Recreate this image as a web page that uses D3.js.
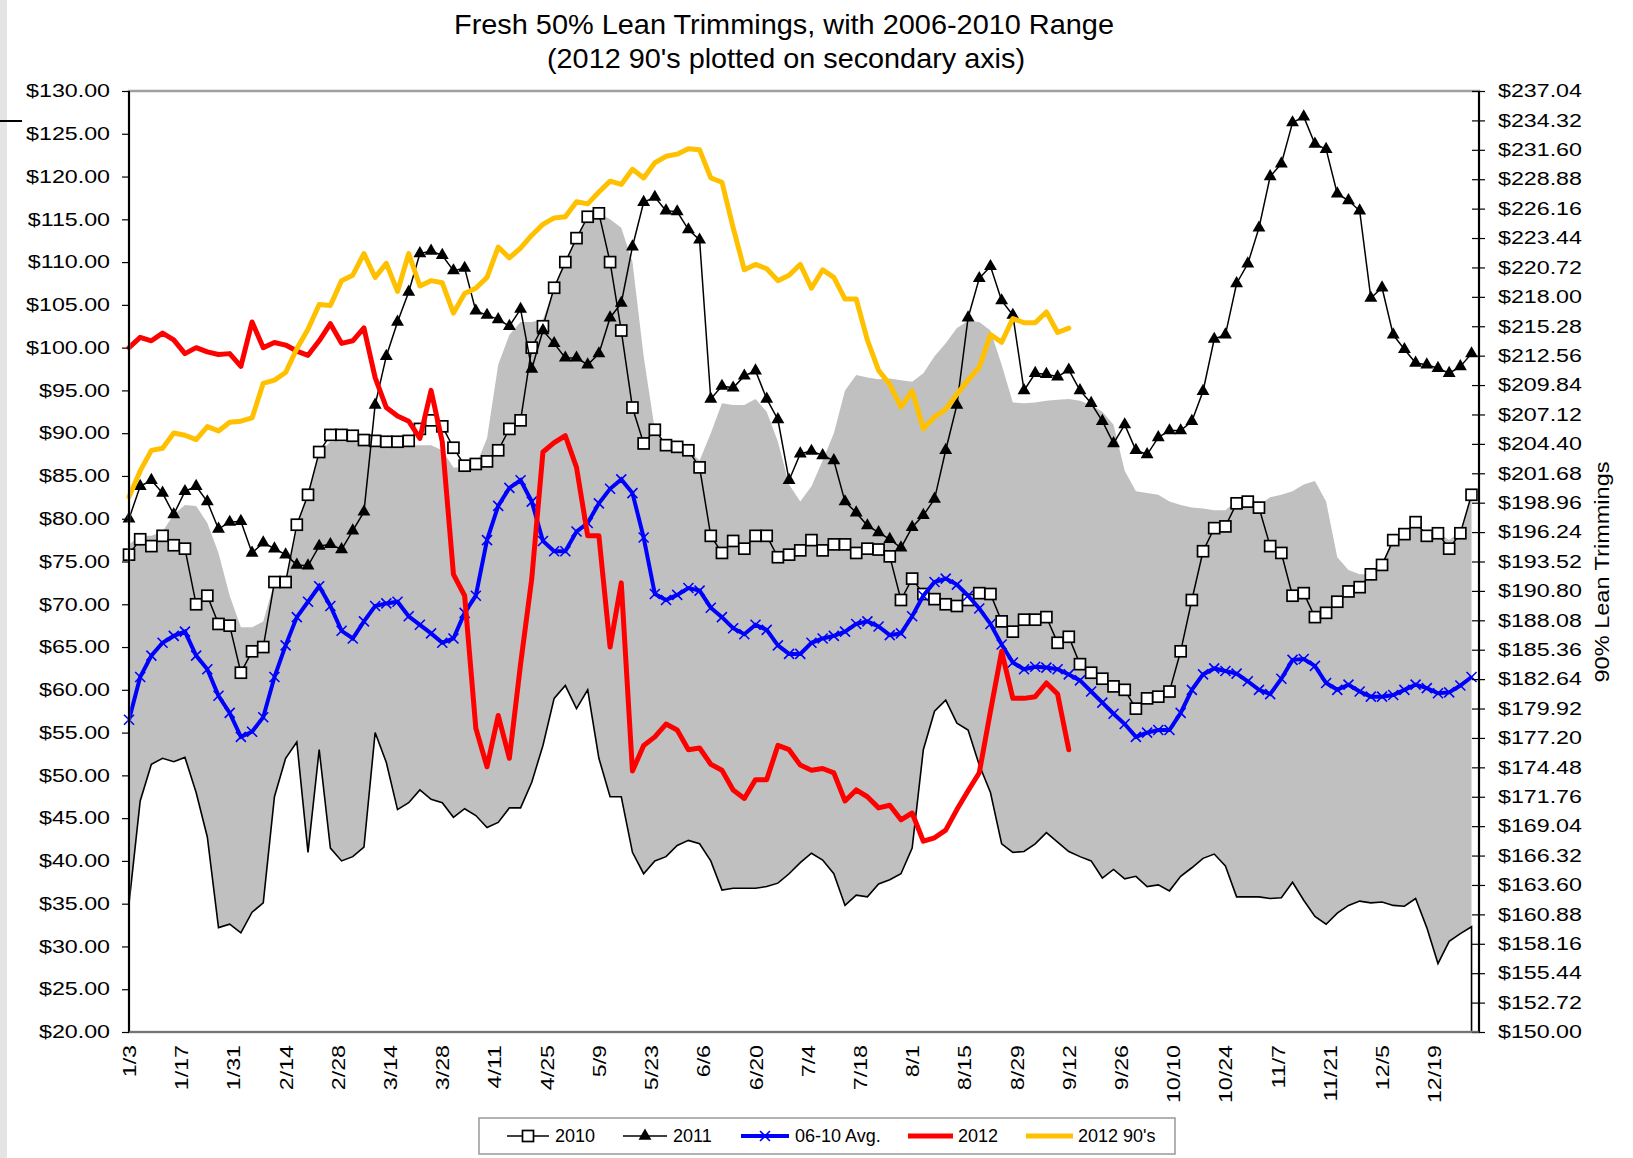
<!DOCTYPE html>
<html>
<head>
<meta charset="utf-8">
<script src="https://cdn.jsdelivr.net/npm/d3@7"></script>
<style>
  body { margin: 0; background: #fff; }
  text { font-family: "Liberation Sans", Arial, sans-serif; fill: #000; }
</style>
</head>
<body>
<div id="chart"></div>
<script>
// Chart dimensions
var margin = {top: 91, right: 154, bottom: 126, left: 129},
    width = 1633 - margin.left - margin.right,
    height = 1158 - margin.top - margin.bottom;

// Category grid: days after 1/3, every third day
var days = d3.range(0, 361, 3);

var xTickDays = [0, 14, 28, 42, 56, 70, 84, 98, 112, 126, 140, 154, 168, 182, 196, 210, 224, 238, 252, 266, 280, 294, 308, 322, 336, 350];
var xTickLabels = ["1/3", "1/17", "1/31", "2/14", "2/28", "3/14", "3/28", "4/11", "4/25", "5/9", "5/23", "6/6", "6/20",
  "7/4", "7/18", "8/1", "8/15", "8/29", "9/12", "9/26", "10/10", "10/24", "11/7", "11/21", "12/5", "12/19"];
var yTicks = [20, 25, 30, 35, 40, 45, 50, 55, 60, 65, 70, 75, 80, 85, 90, 95, 100, 105, 110, 115, 120, 125, 130];
var y2Ticks = [150.00, 152.72, 155.44, 158.16, 160.88, 163.60, 166.32, 169.04, 171.76, 174.48, 177.20, 179.92, 182.64,
  185.36, 188.08, 190.80, 193.52, 196.24, 198.96, 201.68, 204.40, 207.12, 209.84, 212.56, 215.28, 218.00, 220.72,
  223.44, 226.16, 228.88, 231.60, 234.32, 237.04];

// 2006-2010 range
var rangeMax = [
  77.0, 78.0, 78.0, 78.5, 80.5, 81.6, 81.5, 79.5, 76.0, 71.0,
  67.3, 67.3, 68.0, 72.6, 72.6, 79.3, 82.8, 87.8, 89.0, 89.0,
  89.0, 88.7, 88.6, 88.6, 88.6, 88.6, 88.6, 88.6, 88.0, 86.0,
  86.0, 86.2, 89.4, 98.0, 101.5, 103.0, 103.0, 103.3, 107.0, 110.0,
  112.8, 115.3, 115.7, 115.0, 114.0, 110.0, 99.0, 90.4, 88.6, 88.4,
  88.0, 86.8, 90.0, 93.5, 93.3, 93.3, 94.0, 92.5, 89.0, 84.0,
  82.0, 83.8, 86.8, 90.0, 95.0, 96.8, 96.5, 96.3, 96.4, 96.2,
  96.0, 97.0, 99.0, 100.5, 102.3, 103.1, 103.0, 102.0, 98.0, 93.6,
  93.5, 93.6, 93.8, 93.9, 94.0, 93.8, 93.3, 92.5, 91.0, 85.6,
  83.2, 83.0, 82.8, 82.0, 81.6, 81.3, 81.2, 81.0, 81.0, 82.1,
  82.0, 81.6, 82.5, 82.8, 83.2, 84.0, 84.4, 82.0, 75.5, 74.0,
  73.5, 73.5, 74.6, 77.5, 78.2, 79.6, 78.0, 78.3, 77.5, 78.5,
  82.8];
var rangeMin = [
  35.0, 47.0, 51.3, 52.0, 51.6, 52.1, 48.0, 42.8, 32.2, 32.6,
  31.6, 34.0, 35.1, 47.5, 52.0, 53.9, 41.0, 53.0, 41.5, 40.0,
  40.5, 41.6, 55.0, 51.5, 46.0, 46.8, 48.3, 47.2, 46.8, 45.1,
  46.1, 45.3, 43.9, 44.5, 46.2, 46.2, 49.2, 53.5, 59.0, 60.5,
  57.8, 60.0, 52.0, 47.5, 47.5, 41.0, 38.5, 40.0, 40.5, 41.8,
  42.4, 42.0, 40.0, 36.6, 36.8, 36.8, 36.8, 37.0, 37.4, 38.5,
  39.8, 40.9, 40.1, 38.5, 34.8, 36.0, 35.8, 37.3, 37.8, 38.5,
  41.5, 53.0, 57.5, 58.8, 56.1, 55.3, 51.2, 48.0, 42.0, 41.0,
  41.1, 42.0, 43.3, 42.2, 41.1, 40.5, 40.0, 38.0, 39.0, 37.9,
  38.2, 37.0, 37.2, 36.5, 38.2, 39.2, 40.3, 40.8, 39.4, 35.8,
  35.8, 35.8, 35.6, 35.7, 37.5, 35.4, 33.5, 32.6, 33.9, 34.8,
  35.3, 35.1, 35.2, 34.8, 34.7, 35.6, 32.2, 28.0, 30.6, 31.5,
  32.3];

var s2010 = [
  75.8, 77.6, 76.8, 78.0, 76.9, 76.5, 70.0, 71.0, 67.7, 67.5,
  62.0, 64.5, 65.0, 72.6, 72.6, 79.3, 82.8, 87.8, 89.8, 89.8,
  89.7, 89.2, 89.1, 89.0, 89.0, 89.1, 90.5, 91.5, 90.8, 88.3,
  86.2, 86.4, 86.7, 88.0, 90.5, 91.5, 100.0, 102.5, 107.0, 110.0,
  112.8, 115.3, 115.7, 110.0, 102.0, 93.0, 88.8, 90.4, 88.6, 88.4,
  88.0, 86.0, 78.0, 76.0, 77.4, 76.5, 78.0, 78.0, 75.5, 75.8,
  76.3, 77.5, 76.3, 77.0, 77.0, 76.0, 76.5, 76.4, 75.6, 70.5,
  73.0, 71.2, 70.6, 70.0, 69.8, 70.5, 71.3, 71.2, 68.0, 66.8,
  68.2, 68.2, 68.5, 65.5, 66.2, 63.0, 62.0, 61.3, 60.4, 60.0,
  57.8, 59.0, 59.2, 59.8, 64.5, 70.5, 76.2, 78.9, 79.1, 81.8,
  82.0, 81.3, 76.8, 76.0, 71.0, 71.3, 68.5, 69.0, 70.3, 71.5,
  72.0, 73.5, 74.6, 77.5, 78.2, 79.6, 78.0, 78.3, 76.5, 78.3,
  82.8];

var s2011 = [
  80.0, 83.8, 84.5, 83.0, 80.5, 83.2, 83.8, 82.0, 78.8, 79.6,
  79.7, 76.0, 77.2, 76.5, 75.8, 74.6, 74.5, 76.8, 77.0, 76.4,
  78.6, 80.8, 93.3, 99.0, 103.0, 106.5, 111.0, 111.3, 110.8, 109.0,
  109.3, 104.3, 103.8, 103.3, 102.5, 104.5, 97.5, 102.0, 100.5, 98.8,
  98.8, 98.0, 99.3, 103.5, 105.2, 111.8, 117.0, 117.6, 116.0, 115.9,
  113.8, 112.6, 94.0, 95.5, 95.3, 96.7, 97.3, 94.0, 91.6, 84.5,
  87.6, 87.9, 87.4, 86.8, 82.0, 80.7, 79.2, 78.4, 77.6, 76.6,
  79.0, 80.4, 82.3, 88.0, 93.3, 103.5, 108.1, 109.5, 105.5, 103.8,
  95.0, 97.0, 96.9, 96.6, 97.4, 95.0, 93.5, 91.4, 88.8, 91.0,
  88.0, 87.5, 89.5, 90.3, 90.3, 91.4, 94.9, 101.0, 101.5, 107.5,
  109.8, 114.0, 120.0, 121.5, 126.3, 127.0, 123.8, 123.2, 118.0, 117.2,
  116.0, 105.8, 107.0, 101.5, 99.8, 98.2, 98.0, 97.6, 97.0, 97.8,
  99.3];

var avg0610 = [
  56.5, 61.5, 64.0, 65.5, 66.3, 66.8, 64.0, 62.4, 59.3, 57.3,
  54.5, 55.1, 56.8, 61.5, 65.2, 68.5, 70.3, 72.1, 69.8, 66.9,
  66.0, 68.0, 69.8, 70.1, 70.3, 68.6, 67.6, 66.6, 65.5, 66.0,
  69.0, 71.0, 77.5, 81.5, 83.6, 84.5, 82.0, 77.4, 76.2, 76.2,
  78.5, 79.5, 81.8, 83.5, 84.6, 83.0, 77.8, 71.2, 70.5, 71.1,
  71.9, 71.6, 69.6, 68.5, 67.2, 66.5, 67.6, 67.0, 65.2, 64.2,
  64.2, 65.5, 66.0, 66.3, 66.8, 67.7, 68.0, 67.4, 66.4, 66.6,
  68.6, 71.0, 72.6, 73.0, 72.3, 71.0, 69.5, 67.7, 65.3, 63.2,
  62.4, 62.7, 62.6, 62.4, 61.8, 61.1, 59.8, 58.5, 57.2, 56.0,
  54.5, 55.0, 55.3, 55.3, 57.3, 60.0, 61.8, 62.5, 62.2, 61.9,
  61.0, 60.0, 59.5, 61.3, 63.5, 63.6, 62.8, 60.8, 60.0, 60.6,
  59.8, 59.2, 59.2, 59.4, 60.0, 60.6, 60.2, 59.6, 59.7, 60.5,
  61.5];

// 2012 series stop at 9/12
var s2012 = [
  100.0, 101.2, 100.8, 101.7, 100.9, 99.3, 100.0, 99.5, 99.2, 99.3,
  97.8, 103.0, 100.0, 100.6, 100.3, 99.6, 99.1, 100.8, 102.8, 100.5,
  100.8, 102.3, 96.5, 93.0, 92.0, 91.4, 89.4, 95.0, 89.0, 73.5,
  71.0, 55.5, 51.0, 57.0, 52.0, 63.0, 73.0, 87.8, 88.9, 89.7,
  86.0, 78.0, 78.0, 65.0, 72.5, 50.5, 53.5, 54.5, 56.0, 55.3,
  53.0, 53.2, 51.3, 50.6, 48.3, 47.3, 49.5, 49.5, 53.5, 53.0,
  51.2, 50.6, 50.8, 50.3, 47.0, 48.3, 47.5, 46.2, 46.5, 44.8,
  45.6, 42.3, 42.7, 43.6, 46.0, 48.2, 50.3, 57.5, 64.5, 59.0,
  59.0, 59.2, 60.8, 59.5, 53.0];

// 2012 90's, secondary axis
var s2012_90 = [
  199.5, 201.9, 203.8, 204.0, 205.4, 205.2, 204.8, 206.0, 205.6, 206.4,
  206.5, 206.8, 210.0, 210.3, 211.0, 213.2, 215.0, 217.3, 217.2, 219.5,
  220.0, 222.0, 219.8, 221.1, 218.5, 222.0, 219.0, 219.5, 219.3, 216.5,
  218.3, 218.8, 219.8, 222.6, 221.6, 222.5, 223.7, 224.7, 225.3, 225.4,
  226.8, 226.6, 227.7, 228.7, 228.4, 229.8, 229.0, 230.4, 231.0, 231.2,
  231.7, 231.6, 229.0, 228.6, 224.4, 220.5, 221.0, 220.6, 219.5, 220.0,
  221.0, 218.8, 220.5, 219.8, 217.8, 217.8, 214.0, 211.2, 209.9, 207.8,
  209.3, 205.8, 206.9, 207.6, 209.0, 210.3, 211.5, 214.5, 213.8, 216.0,
  215.6, 215.6, 216.6, 214.7, 215.1];

// Scales
var x = d3.scaleLinear().domain([0, 362]).range([0, width]);
var y = d3.scaleLinear().domain([20, 130]).range([height, 0]);
var y2 = d3.scaleLinear().domain([150, 237.04]).range([height, 0]);

function rows(arr) {
  return arr.map(function(v, i) { return {day: days[i], v: v}; });
}

// stretch text horizontally like the source rendering
function widen(sel, k) {
  sel.each(function() {
    var w = this.getComputedTextLength();
    d3.select(this).attr("textLength", w * k).attr("lengthAdjust", "spacingAndGlyphs");
  });
}

var svg = d3.select("#chart")
  .append("svg")
  .attr("width", 1633)
  .attr("height", 1158);

// page edge bits
svg.append("rect").attr("x", 0).attr("y", 0).attr("width", 7).attr("height", 1158).attr("fill", "#e4e4e4");
svg.append("line").attr("x1", 0).attr("x2", 22).attr("y1", 121).attr("y2", 121)
  .attr("stroke", "#000").attr("stroke-width", 2);

var g = svg.append("g")
  .attr("transform", "translate(" + margin.left + "," + margin.top + ")");

// Range band
var band = days.map(function(d, i) { return {day: d, lo: rangeMin[i], hi: rangeMax[i]}; });
g.append("path")
  .datum(band)
  .attr("fill", "#c0c0c0")
  .attr("d", d3.area()
    .x(function(d) { return x(d.day); })
    .y0(function(d) { return y(d.lo); })
    .y1(function(d) { return y(d.hi); }));

var minLine = band.concat([{day: band[band.length - 1].day, lo: y.domain()[0]}]);
g.append("path")
  .datum(minLine)
  .attr("fill", "none")
  .attr("stroke", "#000")
  .attr("stroke-width", 1.6)
  .attr("d", d3.line()
    .x(function(d) { return x(d.day); })
    .y(function(d) { return y(d.lo); }));

var line = d3.line()
  .x(function(d) { return x(d.day); })
  .y(function(d) { return y(d.v); });

var line2 = d3.line()
  .x(function(d) { return x(d.day); })
  .y(function(d) { return y2(d.v); });

// 2010
g.append("path").datum(rows(s2010))
  .attr("fill", "none").attr("stroke", "#000").attr("stroke-width", 1.5)
  .attr("d", line);
g.selectAll(".m2010").data(rows(s2010)).enter().append("rect")
  .attr("class", "m2010")
  .attr("x", function(d) { return x(d.day) - 5.5; })
  .attr("y", function(d) { return y(d.v) - 5.5; })
  .attr("width", 11).attr("height", 11)
  .attr("fill", "#fff").attr("stroke", "#000").attr("stroke-width", 1.7);

// 2011
g.append("path").datum(rows(s2011))
  .attr("fill", "none").attr("stroke", "#000").attr("stroke-width", 1.5)
  .attr("d", line);
g.selectAll(".m2011").data(rows(s2011)).enter().append("path")
  .attr("class", "m2011")
  .attr("transform", function(d) { return "translate(" + x(d.day) + "," + y(d.v) + ")"; })
  .attr("d", d3.symbol().type(d3.symbolTriangle).size(72))
  .attr("fill", "#000");

// 06-10 Avg.
g.append("path").datum(rows(avg0610))
  .attr("fill", "none").attr("stroke", "#0000ff").attr("stroke-width", 4)
  .attr("d", line);
g.selectAll(".mavg").data(rows(avg0610)).enter().append("path")
  .attr("class", "mavg")
  .attr("transform", function(d) { return "translate(" + x(d.day) + "," + y(d.v) + ")"; })
  .attr("d", "M-5,-5L5,5M-5,5L5,-5")
  .attr("stroke", "#0000ff").attr("stroke-width", 1.6);

// 2012
g.append("path").datum(rows(s2012))
  .attr("fill", "none").attr("stroke", "#ff0000").attr("stroke-width", 5)
  .attr("stroke-linejoin", "round").attr("stroke-linecap", "round")
  .attr("d", line);

// 2012 90's
g.append("path").datum(rows(s2012_90))
  .attr("fill", "none").attr("stroke", "#ffc000").attr("stroke-width", 5)
  .attr("stroke-linejoin", "round").attr("stroke-linecap", "round")
  .attr("d", line2);

// Frame
g.append("rect").attr("x", 0).attr("y", 0).attr("width", width).attr("height", height)
  .attr("fill", "none").attr("stroke", "#a0a0a0").attr("stroke-width", 2.5);

// Axes
var yAxis = g.append("g")
  .attr("class", "y axis")
  .call(d3.axisLeft(y).tickValues(yTicks).tickSize(7).tickPadding(12)
    .tickFormat(function(d) { return "$" + d.toFixed(2); }));

var y2Axis = g.append("g")
  .attr("class", "y2 axis")
  .attr("transform", "translate(" + width + ",0)")
  .call(d3.axisRight(y2).tickValues(y2Ticks).tickSize(6).tickPadding(13)
    .tickFormat(function(d) { return "$" + d.toFixed(2); }));
y2Axis.selectAll(".tick line").attr("x1", -7);

var xAxis = g.append("g")
  .attr("class", "x axis")
  .attr("transform", "translate(0," + height + ")")
  .call(d3.axisBottom(x).tickValues(xTickDays).tickSize(0)
    .tickFormat(function(d, i) { return xTickLabels[i]; }));
xAxis.selectAll("text")
  .attr("transform", "rotate(-90)")
  .attr("x", -13).attr("y", 0).attr("dy", "0.36em")
  .style("text-anchor", "end");

[yAxis, y2Axis, xAxis].forEach(function(a) {
  a.attr("font-size", 18).attr("font-family", "Liberation Sans, Arial, sans-serif");
  a.selectAll(".tick line").attr("stroke", "#000").attr("stroke-width", 1.2);
  a.select(".domain").remove();
  widen(a.selectAll("text"), 1.29);
});

g.append("line").attr("x1", 0).attr("x2", 0).attr("y1", 0).attr("y2", height)
  .attr("stroke", "#000").attr("stroke-width", 2);
g.append("line").attr("x1", width).attr("x2", width).attr("y1", 0).attr("y2", height)
  .attr("stroke", "#000").attr("stroke-width", 2);
g.append("line").attr("x1", 0).attr("x2", width).attr("y1", height).attr("y2", height)
  .attr("stroke", "#666").attr("stroke-width", 1.5);

// Titles
svg.append("text").attr("x", 784).attr("y", 34).attr("text-anchor", "middle")
  .attr("font-size", 28).attr("textLength", 660).attr("lengthAdjust", "spacingAndGlyphs")
  .text("Fresh 50% Lean Trimmings, with 2006-2010 Range");
svg.append("text").attr("x", 786).attr("y", 68).attr("text-anchor", "middle")
  .attr("font-size", 28).attr("textLength", 478).attr("lengthAdjust", "spacingAndGlyphs")
  .text("(2012 90's plotted on secondary axis)");

svg.append("text")
  .attr("transform", "translate(1609,572) rotate(-90)")
  .attr("text-anchor", "middle")
  .attr("font-size", 20).attr("textLength", 221).attr("lengthAdjust", "spacingAndGlyphs")
  .text("90% Lean Trimmings");

// Legend
var legend = svg.append("g");
legend.append("rect").attr("x", 479).attr("y", 1118).attr("width", 696).attr("height", 36)
  .attr("fill", "#fff").attr("stroke", "#999").attr("stroke-width", 1.5);

var legendItems = [
  {name: "2010", x0: 507, x1: 549, tx: 555, color: "#000", w: 1.5, mark: "square"},
  {name: "2011", x0: 623, x1: 667, tx: 673, color: "#000", w: 1.5, mark: "triangle"},
  {name: "06-10 Avg.", x0: 741, x1: 789, tx: 795, color: "#0000ff", w: 4, mark: "x"},
  {name: "2012", x0: 908, x1: 953, tx: 958, color: "#ff0000", w: 5, mark: null},
  {name: "2012 90's", x0: 1026, x1: 1073, tx: 1078, color: "#ffc000", w: 5, mark: null}
];
var ly = 1136;
legendItems.forEach(function(it) {
  legend.append("line").attr("x1", it.x0).attr("x2", it.x1).attr("y1", ly).attr("y2", ly)
    .attr("stroke", it.color).attr("stroke-width", it.w);
  var cx = (it.x0 + it.x1) / 2;
  if (it.mark === "square") {
    legend.append("rect").attr("x", cx - 5.5).attr("y", ly - 5.5).attr("width", 11).attr("height", 11)
      .attr("fill", "#fff").attr("stroke", "#000").attr("stroke-width", 1.7);
  } else if (it.mark === "triangle") {
    legend.append("path").attr("transform", "translate(" + cx + "," + ly + ")")
      .attr("d", d3.symbol().type(d3.symbolTriangle).size(72)).attr("fill", "#000");
  } else if (it.mark === "x") {
    legend.append("path").attr("transform", "translate(" + cx + "," + ly + ")")
      .attr("d", "M-5,-5L5,5M-5,5L5,-5")
      .attr("stroke", it.color).attr("stroke-width", 1.6);
  }
  legend.append("text").attr("x", it.tx).attr("y", ly).attr("dy", "0.36em")
    .attr("font-size", 18).text(it.name);
});
</script>
</body>
</html>
